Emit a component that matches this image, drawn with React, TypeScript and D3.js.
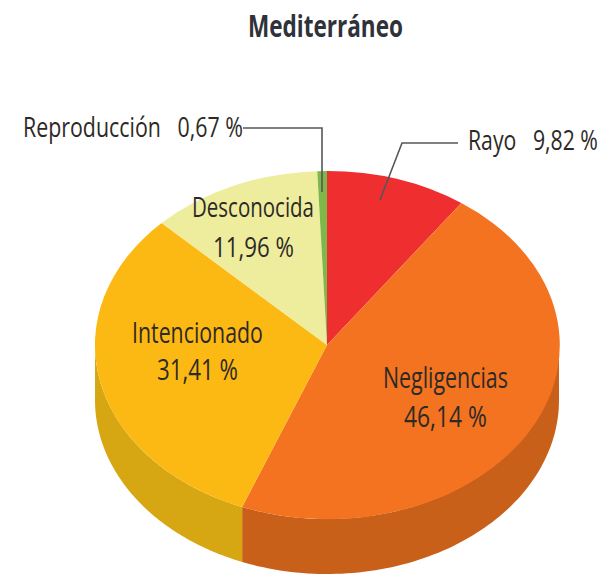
import React, { useLayoutEffect, useRef } from "react";
import * as d3 from "d3";

const categories = ["Rayo", "Negligencias", "Intencionado", "Desconocida", "Reproducción"];
const values = [9.82, 46.14, 31.41, 11.96, 0.67];
const valueLabels = ["9,82 %", "46,14 %", "31,41 %", "11,96 %", "0,67 %"];
const topColors = ["#ee2e2f", "#f47321", "#fdb913", "#eeed9e", "#7fb84a"];
const sideColors = ["#b82424", "#c9601a", "#d7a613", "#c9c880", "#6a9a3d"];

const W = 604, H = 574;
const cx = 327, cy = 345, rx = 232, ry = 174, depth = 55;
const FONT = "'Open Sans',sans-serif";

function Fit({ x, y, len, size, weight = 500, fill = "#2d2a26", children }: any) {
  const ref = useRef<SVGTextElement>(null);
  useLayoutEffect(() => {
    const el = ref.current!;
    const natural = el.getComputedTextLength();
    el.setAttribute("transform", `translate(${x},${y}) scale(${len / natural},1)`);
  });
  return (
    <text ref={ref} fontSize={size} fontFamily={FONT} fontWeight={weight} fill={fill} transform={`translate(${x},${y})`}>
      {children}
    </text>
  );
}

export default function App() {
  const pie = d3.pie<number>().sort(null).value((d) => d)(values);
  const arc = d3.arc<any>().innerRadius(0).outerRadius(1);
  const walls = pie.map((p) => {
    const a0 = Math.max(p.startAngle, Math.PI / 2);
    const a1 = Math.min(p.endAngle, (3 * Math.PI) / 2);
    if (a1 <= a0) return null;
    const n = 80;
    const angles = d3.range(n + 1).map((i) => a0 + ((a1 - a0) * i) / n);
    const ex = (a: number) => cx + rx * Math.sin(a);
    const ey = (a: number) => cy - ry * Math.cos(a);
    const pts: [number, number][] = [
      ...angles.map((a) => [ex(a), ey(a)] as [number, number]),
      ...angles.slice().reverse().map((a) => [ex(a), ey(a) + depth] as [number, number]),
    ];
    return d3.line()(pts) + "Z";
  });

  return (
    <svg width={W} height={H} viewBox={`0 0 ${W} ${H}`} style={{ position: "absolute", left: 0, top: 0, background: "#fff" }}>
      {walls.map((d, i) => d && <path key={i} d={d} fill={sideColors[i]} />)}
      <g transform={`translate(${cx},${cy}) scale(${rx},${ry})`}>
        {pie.map((p, i) => (
          <path key={i} d={arc(p) as string} fill={topColors[i]} />
        ))}
      </g>

      <Fit x={248} y={37} len={155} size={31} weight={700} fill="#2f3238">Mediterráneo</Fit>

      <Fit x={23} y={137} len={220} size={27}>{`${categories[4]}\u00a0\u00a0\u00a0${valueLabels[4]}`}</Fit>
      <path d="M243,128H322V192" fill="none" stroke="#55575a" strokeWidth={1.6} />

      <Fit x={468} y={150} len={130} size={27}>{`${categories[0]}\u00a0\u00a0\u00a0${valueLabels[0]}`}</Fit>
      <path d="M458,143H402L380,200" fill="none" stroke="#55575a" strokeWidth={1.6} />

      <Fit x={192} y={217} len={122} size={27}>{categories[3]}</Fit>
      <Fit x={213} y={257} len={81} size={28}>{valueLabels[3]}</Fit>
      <Fit x={132} y={343} len={131} size={29}>{categories[2]}</Fit>
      <Fit x={157} y={380} len={81} size={29}>{valueLabels[2]}</Fit>
      <Fit x={383} y={388} len={125} size={29}>{categories[1]}</Fit>
      <Fit x={404} y={427} len={83} size={29}>{valueLabels[1]}</Fit>
    </svg>
  );
}
